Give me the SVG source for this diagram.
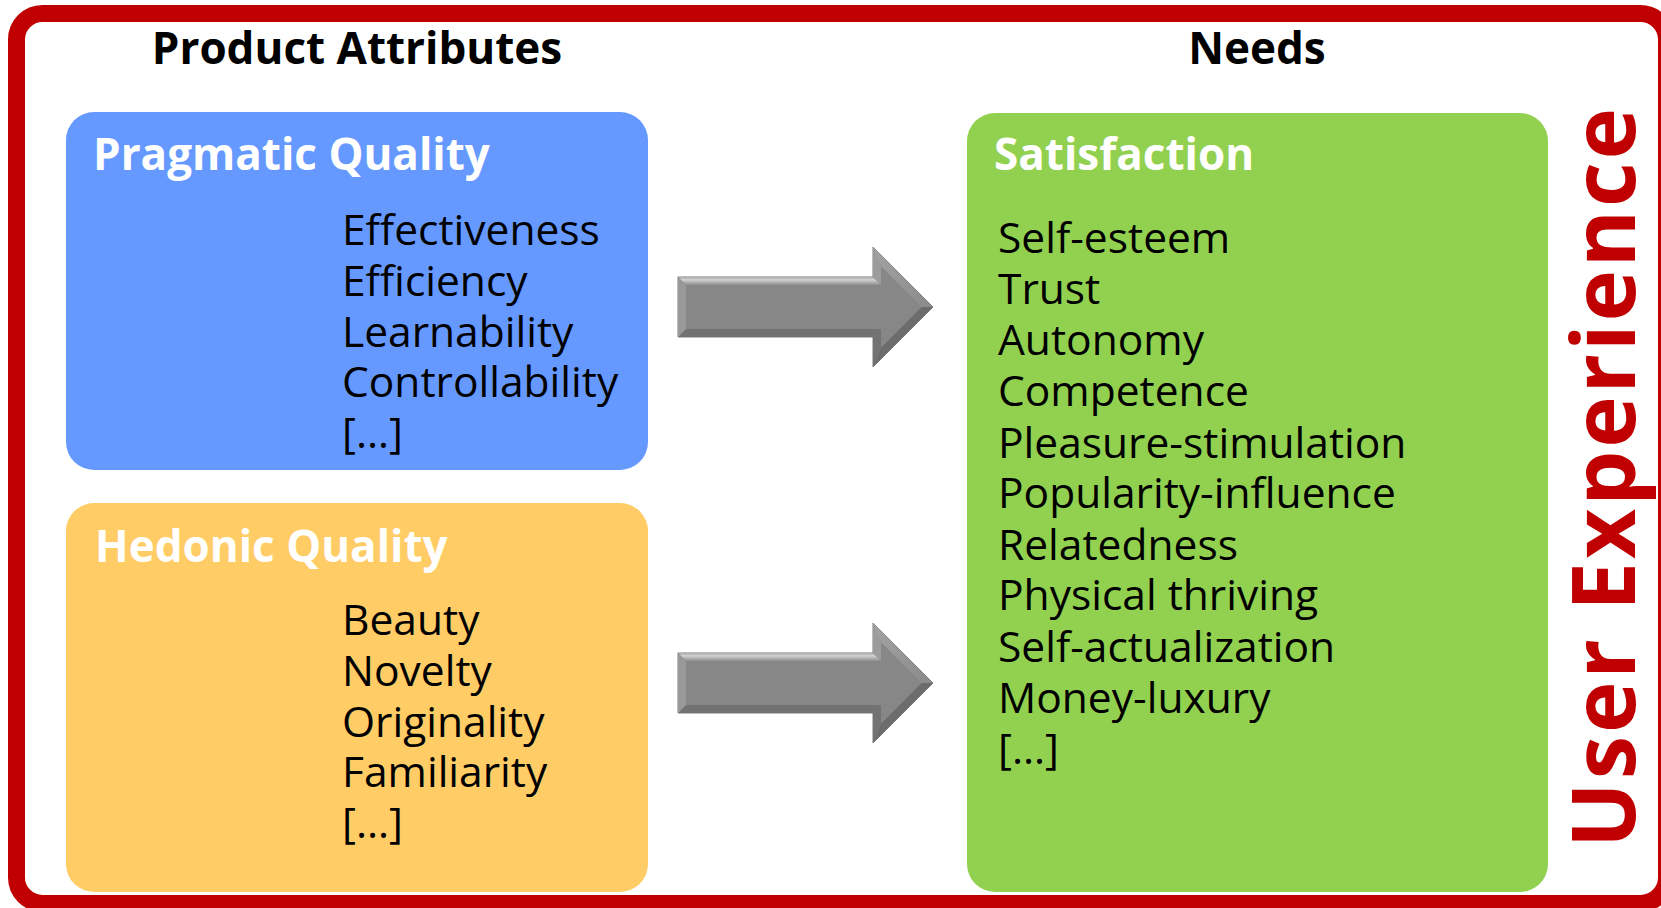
<svg xmlns="http://www.w3.org/2000/svg" width="1661" height="908" viewBox="0 0 1661 908">
  <style>
    .title { font-family: "Open Sans", "Noto Sans", "DejaVu Sans", sans-serif; font-weight: 700; font-size: 44px; fill: #000000; }
    .head { font-family: "Open Sans", "Noto Sans", "DejaVu Sans", sans-serif; font-weight: 700; font-size: 44px; fill: #ffffff; }
    .item { font-family: "Open Sans", "Noto Sans", "DejaVu Sans", sans-serif; font-weight: 400; font-size: 42.5px; fill: #000000; }
    .ux { font-family: "Open Sans", "Noto Sans", "DejaVu Sans", sans-serif; font-weight: 700; font-size: 87px; fill: #c00000; }
  </style>
  <defs>
    <linearGradient id="topBevel" x1="0" y1="0" x2="0" y2="1">
      <stop offset="0" stop-color="#a8a8a8"/>
      <stop offset="0.35" stop-color="#d2d2d2"/>
      <stop offset="1" stop-color="#8e8e8e"/>
    </linearGradient>
    <linearGradient id="headUpper" x1="0" y1="0" x2="1" y2="1">
      <stop offset="0" stop-color="#a4a4a4"/>
      <stop offset="1" stop-color="#8a8a8a"/>
    </linearGradient>
    <!-- bevelled block arrow, tip at (255,0) -->
    <g id="blockArrow">
      <polygon points="0,-30 195,-30 195,-60 255,0 195,60 195,30 0,30" fill="#878787" stroke="#7a7a7a" stroke-width="1"/>
      <polygon points="0,-30 195,-30 203,-22 8,-22" fill="url(#topBevel)"/>
      <polygon points="195,-30 195,-60 203,-40.7 203,-22" fill="#9c9c9c"/>
      <polygon points="195,-60 255,0 243.7,0 203,-40.7" fill="url(#headUpper)"/>
      <polygon points="255,0 195,60 203,40.7 243.7,0" fill="#6c6c6c"/>
      <polygon points="195,60 195,30 203,22 203,40.7" fill="#737373"/>
      <polygon points="195,30 0,30 8,22 203,22" fill="#727272"/>
      <polygon points="0,30 0,-30 8,-22 8,22" fill="#999999"/>
    </g>
  </defs>

  <rect width="1661" height="908" fill="#ffffff"/>

  <!-- outer frame -->
  <g id="frame">
    <rect x="16.5" y="13.5" width="1650" height="890" rx="26" ry="26" fill="none" stroke="#c00000" stroke-width="17"/>
    <text class="ux" transform="translate(1635,478) rotate(-90)" text-anchor="middle" textLength="740" lengthAdjust="spacing">User Experience</text>
  </g>

  <!-- column titles -->
  <g id="titles">
    <text class="title" x="357" y="64" text-anchor="middle">Product Attributes</text>
    <text class="title" x="1257" y="64" text-anchor="middle">Needs</text>
  </g>

  <g id="pragmatic">
    <rect x="66" y="112" width="582" height="358" rx="28" ry="28" fill="#6699ff"/>
    <text class="head" x="93" y="170">Pragmatic Quality</text>
    <text class="item" x="342" y="245">Effectiveness</text>
    <text class="item" x="342" y="296">Efficiency</text>
    <text class="item" x="342" y="347">Learnability</text>
    <text class="item" x="342" y="397">Controllability</text>
    <text class="item" x="342" y="448">[…]</text>
  </g>

  <g id="hedonic">
    <rect x="66" y="503" width="582" height="389" rx="28" ry="28" fill="#ffcc66"/>
    <text class="head" x="95" y="562">Hedonic Quality</text>
    <text class="item" x="342" y="635">Beauty</text>
    <text class="item" x="342" y="686">Novelty</text>
    <text class="item" x="342" y="737">Originality</text>
    <text class="item" x="342" y="787">Familiarity</text>
    <text class="item" x="342" y="838">[…]</text>
  </g>

  <g id="satisfaction">
    <rect x="967" y="113" width="581" height="779" rx="28" ry="28" fill="#92d050"/>
    <text class="head" x="994" y="170">Satisfaction</text>
    <text class="item" x="998" y="253">Self-esteem</text>
    <text class="item" x="998" y="304">Trust</text>
    <text class="item" x="998" y="355">Autonomy</text>
    <text class="item" x="998" y="406">Competence</text>
    <text class="item" x="998" y="458">Pleasure-stimulation</text>
    <text class="item" x="998" y="508">Popularity-influence</text>
    <text class="item" x="998" y="560">Relatedness</text>
    <text class="item" x="998" y="610">Physical thriving</text>
    <text class="item" x="998" y="662">Self-actualization</text>
    <text class="item" x="998" y="713">Money-luxury</text>
    <text class="item" x="998" y="764">[…]</text>
  </g>

  <!-- connectors -->
  <g id="connectors">
    <use href="#blockArrow" transform="translate(678,307)"/>
    <use href="#blockArrow" transform="translate(678,683)"/>
  </g>
</svg>
